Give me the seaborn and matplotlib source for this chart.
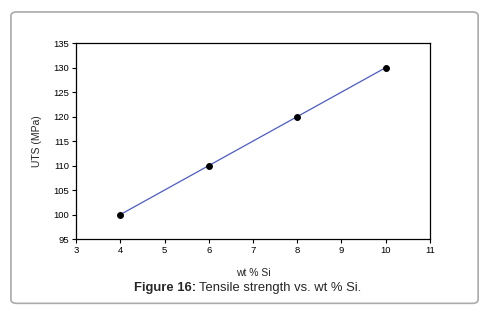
import matplotlib
matplotlib.use("Agg")
import matplotlib.pyplot as plt
import matplotlib.patches as mpatches
import seaborn as sns
import pandas as pd

# data
wt_si = [4, 6, 8, 10]
uts = [100, 110, 120, 130]

x_ticks = [3, 4, 5, 6, 7, 8, 9, 10, 11]
y_ticks = [95, 100, 105, 110, 115, 120, 125, 130, 135]

sns.set_style("ticks")
plt.rcParams['font.family'] = ['Liberation Sans', 'DejaVu Sans']

df = pd.DataFrame({"wt % Si": wt_si, "UTS (MPa)": uts})

fig = plt.figure(figsize=(4.97, 3.15), dpi=100)
ax = fig.add_axes([0.153, 0.241, 0.712, 0.622])

sns.lineplot(data=df, x="wt % Si", y="UTS (MPa)", ax=ax, color="#4b5cc4",
             linewidth=0.9, marker="o", markersize=4.2,
             markerfacecolor="black", markeredgecolor="black")

ax.set_xlim(3, 11)
ax.set_ylim(95, 135)
ax.set_xticks(x_ticks)
ax.set_yticks(y_ticks)
ax.tick_params(labelsize=6.8, length=3, width=0.8, colors="black", pad=2)
for s in ax.spines.values():
    s.set_visible(True)
    s.set_linewidth(0.9)
    s.set_color("black")
ax.set_xlabel("wt % Si", fontsize=7.5, labelpad=9)
ax.set_ylabel("UTS (MPa)", fontsize=7.5, labelpad=8)

# outer frame
frame = mpatches.FancyBboxPatch((0.022, 0.037), 0.94, 0.925,
                                boxstyle="round,pad=0,rounding_size=0.012",
                                transform=fig.transFigure, fill=False,
                                edgecolor="#aaaaaa", linewidth=1.2)
fig.patches.append(frame)

# caption
fig.text(196 / 497, 1 - 288 / 315, "Figure 16:", fontsize=9.4, fontweight="bold",
         ha="right", va="center")
fig.text(199 / 497, 1 - 288 / 315, "Tensile strength vs. wt % Si.", fontsize=9.4,
         ha="left", va="center")

fig.savefig("out.png", dpi=100)
